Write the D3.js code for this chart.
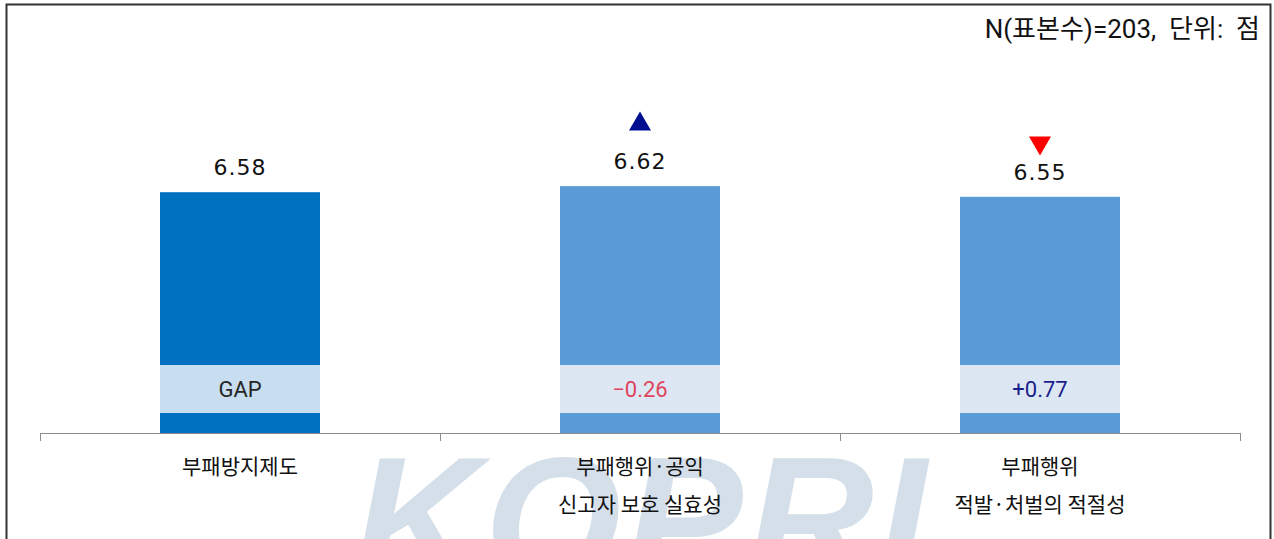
<!DOCTYPE html>
<html>
<head>
<meta charset="utf-8">
<script src="https://cdn.jsdelivr.net/npm/d3@7"></script>
<style>
  body { margin: 0; background: #fff; }
  svg { display: block; }
</style>
</head>
<body>
<div id="chart"></div>
<script>
var categories = [
  ["부패방지제도"],
  ["부패행위·공익", "신고자 보호 실효성"],
  ["부패행위", "적발·처벌의 적절성"]
]
var values = [6.58, 6.62, 6.55]
var gapLabels = ["GAP", "−0.26", "+0.77"]
var markers = [null, "up", "down"]
var note = "N(표본수)=203,  단위:  점"

var width = 1274, height = 539
var margin = {left: 40, right: 34, top: 52, bottom: 106}
var baseY = height - margin.bottom

var svg = d3.select("#chart").append("svg")
  .attr("width", width)
  .attr("height", height)

var x = d3.scaleBand()
  .domain(d3.range(values.length))
  .range([margin.left, width - margin.right])
  .paddingInner(0.6)
  .paddingOuter(0.3)

var y = d3.scaleLinear()
  .domain([5, 7.5])
  .range([baseY, margin.top])

var barColors = ["#0070c0", "#5b9bd5", "#5b9bd5"]
var bandColors = ["#c8ddef", "#dde7f4", "#dde7f4"]
var gapColors = ["#262626", "#e0445c", "#1a1f8c"]

// watermark
svg.append("text")
  .attr("x", 642)
  .attr("y", 580)
  .attr("text-anchor", "middle")
  .style("font-family", "Liberation Sans, Arial, sans-serif")
  .style("font-weight", "bold")
  .style("font-style", "italic")
  .style("font-size", "176px")
  .style("letter-spacing", "4px")
  .style("fill", "#d4dfea")
  .text("KOPRI")

// frame
svg.append("path")
  .attr("d", "M6.5," + (height + 5) + "V4.5H1270.5V" + (height + 5))
  .attr("fill", "none")
  .attr("stroke", "#333")
  .attr("stroke-width", 2)

// bars
var g = svg.append("g")
var bars = g.selectAll("g.bar")
  .data(values)
  .enter().append("g")
  .attr("class", "bar")

bars.append("rect")
  .attr("x", function(d, i) { return x(i) })
  .attr("y", function(d) { return y(d) })
  .attr("width", x.bandwidth())
  .attr("height", function(d) { return baseY - y(d) })
  .attr("fill", function(d, i) { return barColors[i] })

// GAP band
var bandTop = baseY - 68, bandH = 48
bars.append("rect")
  .attr("x", function(d, i) { return x(i) })
  .attr("y", bandTop)
  .attr("width", x.bandwidth())
  .attr("height", bandH)
  .attr("fill", function(d, i) { return bandColors[i] })

bars.append("text")
  .attr("x", function(d, i) { return x(i) + x.bandwidth() / 2 })
  .attr("y", bandTop + bandH / 2 + 8)
  .attr("text-anchor", "middle")
  .style("font-family", "Roboto, Liberation Sans, sans-serif")
  .style("font-size", "22px")
  .style("fill", function(d, i) { return gapColors[i] })
  .text(function(d, i) { return gapLabels[i] })

// value labels
bars.append("text")
  .attr("x", function(d, i) { return x(i) + x.bandwidth() / 2 })
  .attr("y", function(d) { return y(d) - 17 })
  .attr("text-anchor", "middle")
  .style("font-family", "DejaVu Sans, sans-serif")
  .style("font-size", "22px")
  .style("letter-spacing", "1px")
  .style("fill", "#111")
  .text(function(d) { return d.toFixed(2) })

// markers
var tri = d3.symbol().type(d3.symbolTriangle).size(210)
bars.filter(function(d, i) { return markers[i] })
  .append("path")
  .attr("d", tri)
  .attr("transform", function(d, i) {
    var idx = values.indexOf(d)
    var cx = x(idx) + x.bandwidth() / 2
    if (markers[idx] === "up") return "translate(" + cx + "," + (y(d) - 62) + ")"
    return "translate(" + cx + "," + (y(d) - 54) + ") rotate(180)"
  })
  .attr("fill", function(d) {
    return markers[values.indexOf(d)] === "up" ? "#000f8f" : "#ff0000"
  })

// axis
var axis = svg.append("g")
  .attr("transform", "translate(0," + baseY + ")")
axis.append("line")
  .attr("x1", margin.left).attr("x2", width - margin.right)
  .attr("y1", 0.5).attr("y2", 0.5)
  .attr("stroke", "#8c8c8c")
var tickXs = d3.range(values.length + 1).map(function(i) { return margin.left + i * x.step() })
axis.selectAll("line.tick")
  .data(tickXs)
  .enter().append("line")
  .attr("class", "tick")
  .attr("x1", function(d) { return d + 0.5 }).attr("x2", function(d) { return d + 0.5 })
  .attr("y1", 0).attr("y2", 8)
  .attr("stroke", "#8c8c8c")

// category labels
var cat = svg.selectAll("text.cat")
  .data(categories)
  .enter().append("text")
  .attr("class", "cat")
  .attr("text-anchor", "middle")
  .style("font-family", "Noto Sans CJK KR, sans-serif")
  .style("font-size", "21px")
  .style("fill", "#111")
cat.selectAll("tspan")
  .data(function(d, i) { return d.map(function(t) { return {t: t, i: i} }) })
  .enter().append("tspan")
  .attr("x", function(d) { return x(d.i) + x.bandwidth() / 2 })
  .attr("y", function(d, j) { return baseY + 41 + j * 38 })
  .text(function(d) { return d.t })

// note
svg.append("text")
  .attr("x", 1260)
  .attr("y", 38)
  .attr("text-anchor", "end")
  .style("font-family", "Roboto, Noto Sans CJK KR, sans-serif")
  .style("font-size", "26px")
  .style("fill", "#111")
  .style("white-space", "pre")
  .text(note)
</script>
</body>
</html>
